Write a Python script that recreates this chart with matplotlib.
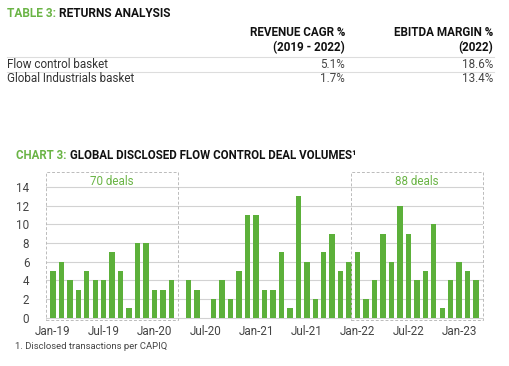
import matplotlib.pyplot as plt
from matplotlib.patches import Rectangle
import numpy as np

plt.rcParams['font.family'] = ['Roboto', 'DejaVu Sans']

# table data
table_cols = ["REVENUE CAGR %\n(2019 - 2022)", "EBITDA MARGIN %\n(2022)"]
table_rows = ["Flow control basket", "Global Industrials basket"]
revenue_cagr = ["5.1%", "1.7%"]
ebitda_margin = ["18.6%", "13.4%"]

# monthly deal counts, Jan-19 .. Mar-23
months = [f"{m}-{y}" for y in range(19, 24)
          for m in ["Jan", "Feb", "Mar", "Apr", "May", "Jun",
                    "Jul", "Aug", "Sep", "Oct", "Nov", "Dec"]][:51]
deals = [5, 6, 4, 3, 5, 4, 4, 7, 5, 1, 8, 8,
         3, 3, 4, 0, 4, 3, 0, 2, 4, 2, 5, 11,
         11, 3, 3, 7, 1, 13, 6, 2, 7, 9, 5, 6,
         7, 2, 4, 9, 6, 12, 9, 4, 5, 10, 1, 4,
         6, 5, 4]
tick_labels = ["Jan-19", "Jul-19", "Jan-20", "Jul-20", "Jan-21",
               "Jul-21", "Jan-22", "Jul-22", "Jan-23"]
periods = [("Jan-19", "Mar-20"), ("Jan-22", "Mar-23")]

green = '#5cb03a'
title_green = '#6ab445'
W, H = 510, 366

fig = plt.figure(figsize=(W / 100, H / 100), dpi=100)


def px(x, y):
    return x / W, 1 - y / H


def two_tone(x, y, first, second, size):
    t1 = fig.text(*px(x, y), first, color=title_green, fontsize=size,
                  fontweight='bold', va='baseline')
    fig.canvas.draw()
    bb = t1.get_window_extent()
    fig.text(bb.x1 / W + 0.006, 1 - y / H, second, fontsize=size,
             fontweight='bold', color='#111111', va='baseline')


# ---- table ----
two_tone(7, 17, "TABLE 3:", "RETURNS ANALYSIS", 8.6)
col_right = [345, 493]
for xr, head in zip(col_right, table_cols):
    fig.text(*px(xr, 51), head, ha='right', va='baseline', fontsize=8.4,
             fontweight='bold', color='#111111', linespacing=1.2)
row_y = [67.5, 82.5]
for yy, name, a, b in zip(row_y, table_rows, revenue_cagr, ebitda_margin):
    fig.text(*px(7, yy), name, fontsize=8.4, color='#333333', va='baseline')
    fig.text(*px(col_right[0], yy), a, ha='right', fontsize=8.4,
             color='#444444', va='baseline')
    fig.text(*px(col_right[1], yy), b, ha='right', fontsize=8.4,
             color='#444444', va='baseline')
for ly in [57, 72]:
    fig.add_artist(plt.Line2D([7 / W, 494 / W], [1 - ly / H] * 2,
                              color='#dddddd', lw=0.8))

# ---- chart ----
two_tone(16, 159, "CHART 3:", "GLOBAL DISCLOSED FLOW CONTROL DEAL VOLUMES\u00b9", 8.3)

ax = fig.add_axes([46 / W, 1 - 319.5 / H, 437 / W, 147.5 / H])
x = np.arange(len(deals))
ax.bar(x, deals, width=0.64, color=green, zorder=3)
ax.set_xlim(-0.82, len(deals) - 0.18)
ax.set_ylim(-0.2, 15.6)
ax.set_yticks(range(0, 15, 2))
ax.set_xticks([months.index(t) for t in tick_labels])
ax.set_xticklabels(tick_labels)
ax.tick_params(length=0, labelsize=8.4, labelcolor='#444444')
ax.tick_params(axis='y', pad=12)
ax.tick_params(axis='x', pad=4)
for s in ax.spines.values():
    s.set_visible(False)
ax.grid(axis='y', color='#d2d2d2', lw=0.8, zorder=0)

for start, end in periods:
    i0, i1 = months.index(start), months.index(end)
    total = sum(deals[i0:i1 + 1])
    ax.add_patch(Rectangle((i0 - 0.82, -0.2), i1 - i0 + 1.64, 15.8,
                           fill=False, ls=(0, (3, 2)), lw=0.7,
                           edgecolor='#bbbbbb', zorder=4, clip_on=False))
    ax.text((i0 + i1) / 2, 14.6, f"{total} deals", ha='center',
            va='center', color=title_green, fontsize=8.4)

fig.text(*px(15, 349), "1. Disclosed transactions per CAPIQ",
         fontsize=6.8, color='#444444', va='baseline')

fig.savefig('out.png', dpi=100)
